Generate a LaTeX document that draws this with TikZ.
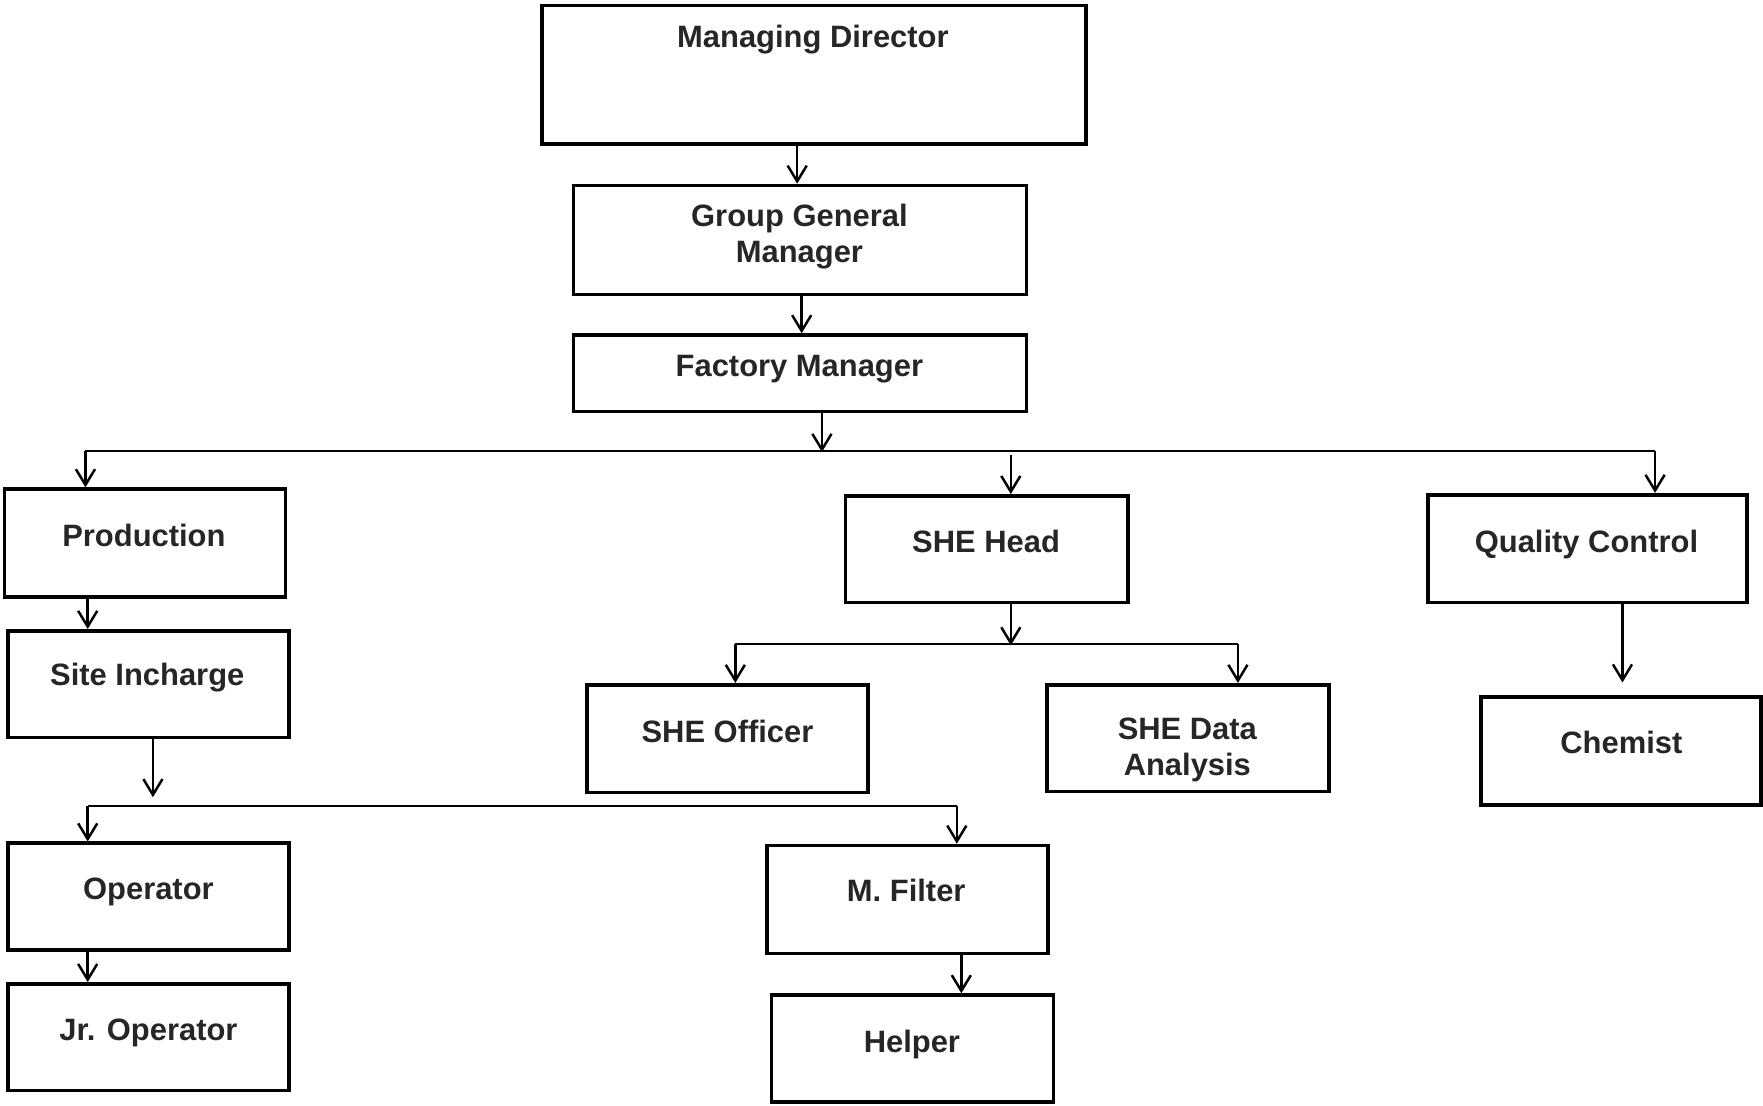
\documentclass[tikz,border=0pt]{standalone}
\usepackage{fontspec}
\setmainfont{Liberation Sans}
\usetikzlibrary{arrows.meta}
\begin{document}
\begin{tikzpicture}[x=1pt,y=-1pt,
  box/.style={draw, line width=3.2pt, rectangle, inner sep=0pt},
  txt/.style={font=\fontsize{27.5}{32}\selectfont\bfseries, inner sep=0pt, align=center, text=black!85},
  arr/.style={line width=2.2pt, -{Straight Barb[length=14pt,width=17pt,line width=2.2pt]}},
  bus/.style={line width=1.5pt}]
\fill[white] (0,0) rectangle (1568,983);
\useasboundingbox (0,0) rectangle (1568,983);
% boxes
\node[box, minimum width=484pt, minimum height=123pt] (md)   at (724,66.5) {};
\node[box, minimum width=403pt, minimum height=97pt]  (ggm)  at (711.5,213.5) {};
\node[box, minimum width=403pt, minimum height=68pt]  (fm)   at (711.5,332) {};
\node[box, minimum width=250pt, minimum height=96pt]  (prod) at (129,483) {};
\node[box, minimum width=250pt, minimum height=95pt]  (site) at (132,608.5) {};
\node[box, minimum width=250pt, minimum height=95pt]  (op)   at (132,797.5) {};
\node[box, minimum width=250pt, minimum height=95pt]  (jrop) at (132,922.5) {};
\node[box, minimum width=250pt, minimum height=96pt]  (mf)   at (807,800) {};
\node[box, minimum width=251pt, minimum height=95pt]  (help) at (811.5,932.5) {};
\node[box, minimum width=251pt, minimum height=95pt]  (she)  at (877.5,488.5) {};
\node[box, minimum width=250pt, minimum height=96pt]  (sheo) at (647,657) {};
\node[box, minimum width=251pt, minimum height=95pt]  (shed) at (1056.5,656.5) {};
\node[box, minimum width=284pt, minimum height=96pt]  (qc)   at (1412,488) {};
\node[box, minimum width=249pt, minimum height=96pt]  (chem) at (1441.5,668) {};
% texts
\node[txt, anchor=base] (mdt)   at (723,42)  {Managing Director};
\node[txt] (ggmt)  at (711,210) {Group General\\Manager};
\node[txt, anchor=base] (fmt)   at (711,335) {Factory Manager};
\node[txt, anchor=base] (prodt) at (128,486) {Production};
\node[txt, anchor=base] (sitet) at (131,610) {Site Incharge};
\node[txt, anchor=base] (opt)   at (132,800) {Operator};
\node[txt, anchor=base] (jropt) at (132,925) {Jr. Operator};
\node[txt, anchor=base] (mft)   at (806,802) {M. Filter};
\node[txt, anchor=base] (helpt) at (811,936) {Helper};
\node[txt, anchor=base] (shet)  at (877,491) {SHE Head};
\node[txt, anchor=base] (sheot) at (647,660) {SHE Officer};
\node[txt] (shedt) at (1056,667) {SHE Data\\Analysis};
\node[txt, anchor=base] (qct)   at (1411,491) {Quality Control};
\node[txt, anchor=base] (chemt) at (1442,670) {Chemist};
% bus coordinates
\coordinate (b1l) at (76,401);
\coordinate (b1r) at (1472,401);
\coordinate (b1m) at (731,401);
\coordinate (shein) at (899,405);
\coordinate (b2l) at (78,717);
\coordinate (b2r) at (851,717);
\coordinate (sitout) at (136,709);
\coordinate (b3l) at (654,573);
\coordinate (b3r) at (1101,573);
\coordinate (b3m) at (899,573);
\coordinate (chemin) at (1443,607);
% connectors
\draw[arr] (709,0 |- md.south) -- (709,0 |- ggm.north);
\draw[arr] (713,0 |- ggm.south) -- (713,0 |- fm.north);
\draw[bus] (b1l) -- (b1r);
\draw[arr] (731,0 |- fm.south) -- ([yshift=-1pt]b1m);
\draw[arr] (b1l) -- (76,0 |- prod.north);
\draw[arr] (shein) -- (899,0 |- she.north);
\draw[arr] (b1r) -- (1472,0 |- qc.north);
\draw[arr] (78,0 |- prod.south) -- (78,0 |- site.north);
\draw[arr] (136,0 |- site.south) -- (sitout);
\draw[bus] (b2l) -- (b2r);
\draw[arr] (b2l) -- (78,0 |- op.north);
\draw[arr] (b2r) -- (851,0 |- mf.north);
\draw[arr] (78,0 |- op.south) -- (78,0 |- jrop.north);
\draw[arr] (855,0 |- mf.south) -- (855,0 |- help.north);
\draw[arr] (899,0 |- she.south) -- ([yshift=-1pt]b3m);
\draw[bus] (b3l) -- (b3r);
\draw[arr] (b3l) -- (654,0 |- sheo.north);
\draw[arr] (b3r) -- (1101,0 |- shed.north);
\draw[arr] (1443,0 |- qc.south) -- (chemin);
\end{tikzpicture}
\end{document}
